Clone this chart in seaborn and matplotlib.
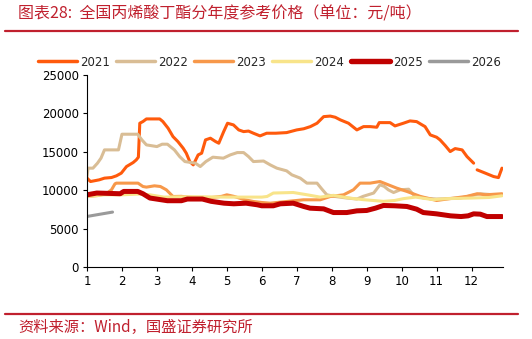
import numpy as np
import pandas as pd
import matplotlib
matplotlib.use("Agg")
import matplotlib.pyplot as plt
from matplotlib.lines import Line2D
import seaborn as sns

# Butyl acrylate reference price by year (yuan/ton); x = month of year (fractional)
m2021 = [1.0, 1.05, 1.1, 1.35, 1.5, 1.7, 1.84, 1.98, 2.13, 2.32, 2.41, 2.47, 2.51, 2.6, 2.7,
         3.08, 3.17, 3.32, 3.46, 3.6, 3.75, 3.84, 3.94, 4.04, 4.18, 4.28, 4.39, 4.53, 4.68,
         4.77, 4.91, 5.02, 5.19, 5.34, 5.48, 5.62, 5.76, 5.95, 6.14, 6.4, 6.71, 7.0, 7.2,
         7.39, 7.58, 7.77, 7.96, 8.1, 8.25, 8.48, 8.72, 8.91, 9.1, 9.29, 9.36, 9.67, 9.81,
         10.05, 10.24, 10.43, 10.55, 10.67, 10.82, 11.0, 11.1, 11.25, 11.39, 11.53, 11.73,
         11.87, 12.06, np.nan, 12.16, 12.4, 12.63, 12.77, 12.87]
p2021 = [11600, 11350, 11130, 11350, 11570, 11650, 11870, 12220, 13080, 13600, 13950, 14300,
         18720, 18940, 19280, 19280, 18940, 18070, 16980, 16330, 15470, 14820, 13730, 13300,
         14600, 14820, 16550, 16770, 16330, 16120, 17630, 18720, 18500, 17850, 17630, 17700,
         17420, 17070, 17420, 17420, 17500, 17850, 18000, 18280, 18720, 19580, 19650, 19500,
         19150, 18720, 17850, 18280, 18280, 18200, 18800, 18800, 18370, 18720, 19020, 18930,
         18600, 18280, 17200, 16900, 16550, 15800, 15030, 15420, 15250, 14380, 13520, np.nan,
         12650, 12210, 11780, 11640, 12870]

m2022 = [1.0, 1.03, 1.17, 1.3, 1.4, 1.5, 1.9, 2.0, 2.45, 2.57, 2.7, 3.0, 3.15, 3.3, 3.5,
         3.65, 3.8, 4.1, 4.24, 4.4, 4.6, 4.9, 5.1, 5.3, 5.48, 5.62, 5.76, 6.05, 6.24, 6.43,
         6.71, 6.86, 7.1, 7.29, 7.58, 7.72, 7.86, 8.1, 8.4, 8.72, 8.9, 9.2, 9.38, 9.5, 9.62,
         9.77, 9.96, 10.2, 10.34, 10.62, 11.0, 11.68, 12.25, 12.63, 12.87]
p2022 = [11780, 12870, 12870, 13520, 14170, 15250, 15250, 17290, 17290, 16550, 15900, 15680,
         15990, 15990, 15250, 14380, 13730, 13520, 13080, 13730, 14300, 14170, 14600, 14900,
         14900, 14380, 13730, 13800, 13300, 12870, 12520, 12000, 11570, 10920, 10920, 10140,
         9400, 9180, 9000, 8850, 9200, 9630, 10700, 10500, 10050, 9700, 10050, 10130, 9400,
         8980, 8850, 8980, 9540, 9400, 9400]

m2023 = [1.0, 1.3, 1.55, 1.7, 1.8, 1.84, 2.46, 2.6, 2.7, 2.93, 3.1, 3.27, 3.46, 3.7, 4.0,
         4.45, 4.85, 5.0, 5.2, 5.5, 5.76, 6.0, 6.24, 6.71, 7.19, 7.67, 7.96, 8.34, 8.62, 8.81,
         9.1, 9.38, 9.62, 9.86, 10.15, 10.53, 11.0, 11.3, 11.87, 12.16, 12.4, 12.87]
p2023 = [9200, 9300, 9540, 10050, 10830, 10920, 10920, 10480, 10400, 10570, 10480, 10050,
         9180, 9200, 9050, 8980, 9200, 9400, 9200, 8770, 8530, 8400, 8310, 8530, 8750, 8750,
         9180, 9400, 10050, 10920, 10920, 11130, 10700, 10270, 9840, 9200, 8660, 8850, 9200,
         9540, 9400, 9540]

m2024 = [1.0, 1.5, 2.0, 2.5, 2.8, 3.2, 4.0, 5.0, 6.0, 6.15, 6.33, 6.9, 7.3, 7.67, 8.05, 8.5,
         8.9, 9.48, 9.8, 10.05, 10.4, 10.9, 11.3, 12.0, 12.5, 12.87]
p2024 = [9180, 9400, 9400, 9500, 9400, 9100, 9150, 9100, 9100, 9180, 9630, 9700, 9400, 9100,
         9330, 8980, 8770, 8550, 8660, 8900, 9100, 8770, 8900, 8980, 9050, 9270]

m2025 = [1.0, 1.28, 1.95, 2.05, 2.45, 2.6, 2.8, 3.1, 3.3, 3.7, 3.87, 4.3, 4.55, 4.92, 5.2,
         5.55, 5.87, 6.0, 6.33, 6.53, 6.9, 7.2, 7.38, 7.77, 8.05, 8.43, 8.72, 9.0, 9.25, 9.48,
         9.8, 10.15, 10.43, 10.62, 11.0, 11.4, 11.7, 11.9, 12.06, 12.25, 12.44, 12.87]
p2025 = [9400, 9630, 9540, 9840, 9840, 9540, 8980, 8770, 8630, 8630, 8850, 8850, 8550, 8310,
         8230, 8310, 8100, 7970, 7970, 8230, 8310, 7880, 7660, 7570, 7090, 7090, 7310, 7360,
         7660, 8010, 7970, 7880, 7530, 7090, 6920, 6660, 6570, 6660, 6920, 6880, 6570, 6570]

m2026 = [1.0, 1.28, 1.55, 1.73]
p2026 = [6580, 6800, 7010, 7150]

years = ["2021", "2022", "2023", "2024", "2025", "2026"]
months = [m2021, m2022, m2023, m2024, m2025, m2026]
prices = [p2021, p2022, p2023, p2024, p2025, p2026]
month_ticks = list(range(1, 13))
price_ticks = [0, 5000, 10000, 15000, 20000, 25000]

colors = {"2021": "#FF5A0C", "2022": "#D9BD95", "2023": "#F7984A",
          "2024": "#F8E48A", "2025": "#C00000", "2026": "#9A9A9A"}
widths = {"2021": 2.2, "2022": 2.2, "2023": 2.2, "2024": 2.2, "2025": 3.6, "2026": 2.2}

# long-form table; a new segment starts after every missing value
frames = []
for yr, mm, pp in zip(years, months, prices):
    d = pd.DataFrame({"month": mm, "price": pp})
    d["seg"] = d["month"].isna().cumsum()
    d["year"] = yr
    frames.append(d.dropna())
df = pd.concat(frames, ignore_index=True)

sns.set_style("ticks")
plt.rcParams["font.family"] = ["DejaVu Sans"]
cjk = ["Noto Sans CJK SC", "DejaVu Sans"]
red = "#C0202E"

fig = plt.figure(figsize=(5.32, 3.39), dpi=100)
ax = fig.add_axes([87 / 532, 1 - 267 / 339, (503 - 87) / 532, (267 - 75) / 339])

for yr in years:
    sub = df[df["year"] == yr]
    sns.lineplot(data=sub, x="month", y="price", units="seg", estimator=None, sort=False,
                 color=colors[yr], linewidth=widths[yr], ax=ax, legend=False)

ax.set_xlim(1, 12.9)
ax.set_ylim(0, 25000)
ax.set_xticks(month_ticks)
ax.set_xticklabels([str(m) for m in month_ticks])
ax.set_yticks(price_ticks)
ax.set_yticklabels([str(v) for v in price_ticks])
ax.set_xlabel("")
ax.set_ylabel("")
ax.tick_params(axis="both", direction="out", length=3, width=0.8, labelsize=8.5,
               colors="black", pad=3)
for s in ["top", "right"]:
    ax.spines[s].set_visible(False)
for s in ["left", "bottom"]:
    ax.spines[s].set_color("black")
    ax.spines[s].set_linewidth(0.8)

handles = [Line2D([0], [0], color=colors[y], lw=widths[y] + 0.3, solid_capstyle="round")
           for y in years]
fig.legend(handles, years, loc="center", bbox_to_anchor=(0.506, 1 - 62 / 339), ncol=6,
           frameon=False, fontsize=8.5, handlelength=3.3, handletextpad=0.25,
           columnspacing=0.55, borderpad=0)

# header and footer
fig.text(18 / 532, 1 - 14 / 339, "图表28:  全国丙烯酸丁酯分年度参考价格（单位：元/吨）",
         family=cjk, fontsize=11.5, color=red, style="italic", va="center", ha="left")
fig.add_artist(Line2D([5 / 532, 518 / 532], [1 - 31 / 339, 1 - 31 / 339],
                      color=red, lw=1.6, transform=fig.transFigure))
fig.add_artist(Line2D([5 / 532, 518 / 532], [1 - 314 / 339, 1 - 314 / 339],
                      color=red, lw=1.6, transform=fig.transFigure))
fig.text(18 / 532, 1 - 327 / 339, "资料来源：Wind，国盛证券研究所",
         family=cjk, fontsize=11, color=red, style="italic", va="center", ha="left")

fig.savefig("out.png", dpi=100, facecolor="white")
